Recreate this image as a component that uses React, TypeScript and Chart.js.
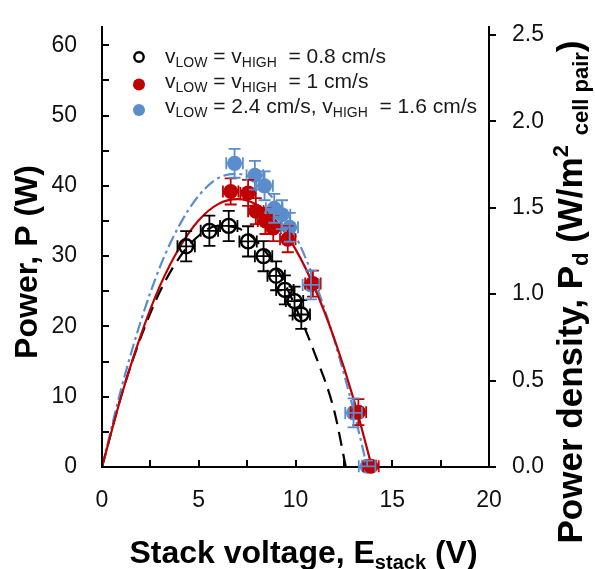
import React, { useEffect, useRef } from 'react';
import { Chart, registerables } from 'chart.js';
Chart.register(...registerables);

// Measured data (Stack voltage E in V, power P in W) with error bars
const blackE = [4.35, 5.55, 6.55, 7.55, 8.35, 9.0, 9.45, 9.95, 10.3];
const blackP = [31.4, 33.6, 34.3, 32.1, 30.0, 27.2, 25.2, 23.6, 21.7];
const blackEErr = [0.45, 0.45, 0.45, 0.45, 0.45, 0.45, 0.45, 0.45, 0.45];
const blackPErr = [2.15, 2.15, 2.15, 2.15, 2.15, 2.05, 2.05, 2.05, 2.05];

const redE = [6.65, 7.55, 7.95, 8.45, 8.85, 9.6, 10.9, 13.25, 13.9];
const redP = [39.2, 39.0, 36.4, 35.0, 34.0, 32.4, 26.1, 7.8, 0.1];
const redEErr = [0.4, 0.4, 0.4, 0.4, 0.4, 0.4, 0.4, 0.4, 0.4];
const redPErr = [1.85, 1.85, 1.85, 1.85, 1.85, 1.85, 1.85, 1.85, 0.8];

const blueE = [6.85, 7.9, 8.4, 8.9, 9.3, 9.7, 10.8, 13.0, 13.7];
const blueP = [43.2, 41.5, 40.0, 36.8, 35.9, 34.1, 25.9, 7.7, 0.1];
const blueEErr = [0.43, 0.43, 0.43, 0.43, 0.43, 0.43, 0.43, 0.43, 0.43];
const bluePErr = [2.05, 2.05, 2.05, 2.05, 2.05, 2.05, 2.05, 2.05, 0.8];

// Fitted curves
const fitBlackE = [0, 1, 2, 3, 4, 5, 6, 7, 8, 9, 10, 11, 12, 12.6];
const fitBlackP = [0, 10.2, 18.4, 25.0, 29.8, 32.9, 34.3, 34.0, 32.1, 28.4, 22.8, 16.1, 8.0, 0];
const fitRedE = [0, 1, 2, 3, 4, 5, 6, 7, 8, 9, 10, 11, 12, 13, 13.95];
const fitRedP = [0, 10.1, 18.7, 25.8, 31.2, 35.1, 37.4, 38.1, 37.3, 35.0, 31.0, 25.4, 18.3, 9.7, 0];
const fitBlueE = [0, 1, 2, 3, 4, 5, 6, 7, 8, 9, 10, 11, 12, 13, 13.7];
const fitBlueP = [0, 11.2, 20.7, 28.5, 34.4, 38.6, 41.1, 41.7, 40.6, 37.6, 32.9, 26.4, 18.1, 8.1, 0];

// Axes
const xMin = 0;
const xMax = 20;
const xStep = 2.5;
const yMin = 0;
const yMax = 62.6;
const yStep = 5;
const pdRatio = 24.6; // W per W/m2 cell pair
const y2Step = 0.5;

const BLACK = '#000000';
const RED = '#c00000';
const BLUE = '#5b8dcd';
const FONT = '"Liberation Sans", Arial, sans-serif';

type Seg = { t: string; size: number; bold?: boolean; dy?: number };

const legendRows: Seg[][] = [
  [
    { t: 'v', size: 21 }, { t: 'LOW', size: 14, dy: 4 }, { t: ' = v', size: 21 },
    { t: 'HIGH', size: 14, dy: 4 }, { t: '  = 0.8 cm/s', size: 21 },
  ],
  [
    { t: 'v', size: 21 }, { t: 'LOW', size: 14, dy: 4 }, { t: ' = v', size: 21 },
    { t: 'HIGH', size: 14, dy: 4 }, { t: '  = 1 cm/s', size: 21 },
  ],
  [
    { t: 'v', size: 21 }, { t: 'LOW', size: 14, dy: 4 }, { t: ' = 2.4 cm/s, v', size: 21 },
    { t: 'HIGH', size: 14, dy: 4 }, { t: '  = 1.6 cm/s', size: 21 },
  ],
];

const xTitle: Seg[] = [
  { t: 'Stack voltage, E', size: 32, bold: true },
  { t: 'stack', size: 20, bold: true, dy: 6 },
  { t: ' (V)', size: 32, bold: true },
];
const yTitle: Seg[] = [{ t: 'Power, P (W)', size: 32, bold: true }];
const y2Title: Seg[] = [
  { t: 'Power density, P', size: 35, bold: true },
  { t: 'd', size: 22, bold: true, dy: 6 },
  { t: ' (W/m', size: 35, bold: true },
  { t: '2', size: 22, bold: true, dy: -14 },
  { t: ' ', size: 35, bold: true },
  { t: 'cell pair', size: 22, bold: true, dy: 6 },
  { t: ')', size: 35, bold: true },
];

function segFont(s: Seg) {
  return `${s.bold ? 'bold ' : ''}${s.size}px ${FONT}`;
}
function richWidth(ctx: CanvasRenderingContext2D, segs: Seg[]) {
  let w = 0;
  for (const s of segs) {
    ctx.font = segFont(s);
    w += ctx.measureText(s.t).width;
  }
  return w;
}
function drawRich(ctx: CanvasRenderingContext2D, segs: Seg[], x: number, y: number, center: boolean) {
  let cx = center ? x - richWidth(ctx, segs) / 2 : x;
  ctx.textBaseline = 'alphabetic';
  ctx.textAlign = 'left';
  for (const s of segs) {
    ctx.font = segFont(s);
    ctx.fillText(s.t, cx, y + (s.dy || 0));
    cx += ctx.measureText(s.t).width;
  }
}

const overlay = {
  id: 'overlay',
  afterDatasetsDraw(chart: any) {
    const ctx: CanvasRenderingContext2D = chart.ctx;
    const xs = chart.scales.x;
    const ys = chart.scales.y;
    const groups = [
      { e: blackE, p: blackP, ee: blackEErr, pe: blackPErr, c: BLACK },
      { e: redE, p: redP, ee: redEErr, pe: redPErr, c: RED },
      { e: blueE, p: blueP, ee: blueEErr, pe: bluePErr, c: BLUE },
    ];
    ctx.save();
    ctx.lineWidth = 1.8;
    const cap = 6;
    for (const g of groups) {
      ctx.strokeStyle = g.c;
      for (let i = 0; i < g.e.length; i++) {
        const px = xs.getPixelForValue(g.e[i]);
        const py = ys.getPixelForValue(g.p[i]);
        const x1 = xs.getPixelForValue(g.e[i] - g.ee[i]);
        const x2 = xs.getPixelForValue(g.e[i] + g.ee[i]);
        const y1 = ys.getPixelForValue(g.p[i] + g.pe[i]);
        const y2 = ys.getPixelForValue(Math.max(0, g.p[i] - g.pe[i]));
        ctx.beginPath();
        ctx.moveTo(x1, py); ctx.lineTo(x2, py);
        ctx.moveTo(x1, py - cap); ctx.lineTo(x1, py + cap);
        ctx.moveTo(x2, py - cap); ctx.lineTo(x2, py + cap);
        ctx.moveTo(px, y1); ctx.lineTo(px, y2);
        ctx.moveTo(px - cap, y1); ctx.lineTo(px + cap, y1);
        if (g.p[i] - g.pe[i] > 0) { ctx.moveTo(px - cap, y2); ctx.lineTo(px + cap, y2); }
        ctx.stroke();
      }
    }
    ctx.restore();
  },
  afterDraw(chart: any) {
    const ctx: CanvasRenderingContext2D = chart.ctx;
    const xs = chart.scales.x;
    const ys = chart.scales.y;
    const y2s = chart.scales.y2;
    const area = chart.chartArea;
    ctx.save();
    ctx.strokeStyle = BLACK;
    ctx.lineWidth = 2;
    ctx.beginPath();
    for (const t of xs.ticks) {
      const px = Math.round(xs.getPixelForValue(t.value));
      ctx.moveTo(px, area.bottom); ctx.lineTo(px, area.bottom - 7);
    }
    for (const t of ys.ticks) {
      const py = Math.round(ys.getPixelForValue(t.value));
      ctx.moveTo(area.left, py); ctx.lineTo(area.left + 7, py);
    }
    for (const t of y2s.ticks) {
      const py = Math.round(y2s.getPixelForValue(t.value));
      ctx.moveTo(area.right, py); ctx.lineTo(area.right + 7, py);
    }
    ctx.stroke();

    ctx.fillStyle = BLACK;
    // x title
    drawRich(ctx, xTitle, (area.left + area.right) / 2 + 8, 563, true);
    // left title
    ctx.save();
    ctx.translate(37, 262);
    ctx.rotate(-Math.PI / 2);
    drawRich(ctx, yTitle, 0, 0, true);
    ctx.restore();
    // right title
    ctx.save();
    ctx.translate(582, 292);
    ctx.rotate(-Math.PI / 2);
    drawRich(ctx, y2Title, 0, 0, true);
    ctx.restore();

    // legend
    const lx = 139;
    const ty = [63, 88, 113];
    const my = [57, 84.5, 110];
    const markers = [
      { c: BLACK, fill: false },
      { c: RED, fill: true },
      { c: BLUE, fill: true },
    ];
    for (let i = 0; i < legendRows.length; i++) {
      const m = markers[i];
      ctx.beginPath();
      ctx.arc(lx, my[i], m.fill ? 6 : 4.7, 0, Math.PI * 2);
      if (m.fill) { ctx.fillStyle = m.c; ctx.fill(); }
      else { ctx.lineWidth = 2.4; ctx.strokeStyle = m.c; ctx.stroke(); }
      ctx.fillStyle = '#1a1a1a';
      drawRich(ctx, legendRows[i], 165, ty[i], false);
    }
    ctx.restore();
  },
};

function pts(e: number[], p: number[]) {
  return e.map((v, i) => ({ x: v, y: p[i] }));
}

function noPad(s: any) {
  s.paddingTop = 0;
  s.paddingBottom = 0;
  s.paddingLeft = 0;
  s.paddingRight = 0;
}

export default function App() {
  const ref = useRef<HTMLCanvasElement | null>(null);
  useEffect(() => {
    document.body.style.margin = '0';
    if (!ref.current) return;
    const tickFont = { family: FONT, size: 23 };
    const chart = new Chart(ref.current, {
      type: 'scatter',
      data: {
        datasets: [
          {
            label: 'black', data: pts(blackE, blackP), pointRadius: 7, pointBorderWidth: 2.4,
            pointBackgroundColor: 'rgba(0,0,0,0)', pointBorderColor: BLACK, showLine: false,
          },
          {
            label: 'red', data: pts(redE, redP), pointRadius: 7.5, pointBorderWidth: 0,
            pointBackgroundColor: RED, pointBorderColor: RED, showLine: false,
          },
          {
            label: 'blue', data: pts(blueE, blueP), pointRadius: 7.5, pointBorderWidth: 0,
            pointBackgroundColor: BLUE, pointBorderColor: BLUE, showLine: false,
          },
          {
            label: 'fitRed', data: pts(fitRedE, fitRedP), showLine: true, pointRadius: 0,
            borderColor: RED, borderWidth: 2.2, cubicInterpolationMode: 'monotone',
          },
          {
            label: 'fitBlue', data: pts(fitBlueE, fitBlueP), showLine: true, pointRadius: 0,
            borderColor: BLUE, borderWidth: 2.2, borderDash: [12, 4, 3, 4], cubicInterpolationMode: 'monotone',
          },
          {
            label: 'fitBlack', data: pts(fitBlackE, fitBlackP), showLine: true, pointRadius: 0,
            borderColor: BLACK, borderWidth: 2.2, borderDash: [14, 8], cubicInterpolationMode: 'monotone',
          },
        ],
      } as any,
      options: {
        animation: false,
        responsive: false,
        clip: false as any,
        layout: { padding: { top: 27, left: 0, right: 0, bottom: 0 } },
        plugins: { legend: { display: false }, tooltip: { enabled: false } },
        scales: {
          x: {
            type: 'linear', min: xMin, max: xMax,
            grid: { display: false, drawTicks: false },
            border: { display: true, color: BLACK, width: 2 },
            ticks: {
              stepSize: xStep, includeBounds: false, color: '#111', font: tickFont, padding: 20, maxRotation: 0,
              callback: (v: any) => (Number(v) % 5 === 0 ? String(v) : ''),
              autoSkip: false,
            },
            afterFit: (s: any) => { s.height = 102; noPad(s); },
          },
          y: {
            type: 'linear', position: 'left', min: yMin, max: yMax,
            grid: { display: false, drawTicks: false },
            border: { display: true, color: BLACK, width: 2 },
            ticks: {
              stepSize: yStep, includeBounds: false, color: '#111', font: tickFont, padding: 25,
              callback: (v: any) => (Number(v) % 10 === 0 ? String(v) : ''),
              autoSkip: false,
            },
            afterFit: (s: any) => { s.width = 102; noPad(s); },
          },
          y2: {
            type: 'linear', position: 'right', min: yMin / pdRatio, max: yMax / pdRatio,
            grid: { display: false, drawTicks: false },
            border: { display: true, color: BLACK, width: 2 },
            ticks: {
              stepSize: y2Step, includeBounds: false, color: '#111', font: tickFont, padding: 23,
              callback: (v: any) => Number(v).toFixed(1),
              autoSkip: false,
            },
            afterFit: (s: any) => { s.width = 106; noPad(s); },
          },
        },
      } as any,
      plugins: [overlay],
    });
    return () => chart.destroy();
  }, []);
  return (
    <div style={{ width: 595, height: 569, background: '#fff' }}>
      <canvas ref={ref} width={595} height={569} style={{ display: 'block' }} />
    </div>
  );
}
